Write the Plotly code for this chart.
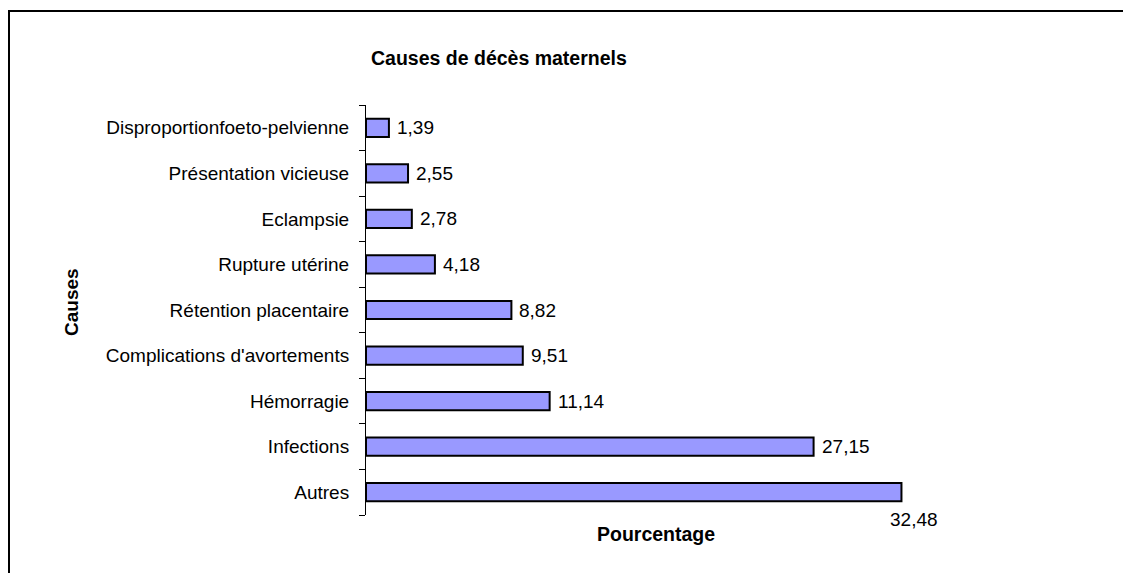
import plotly.graph_objects as go

causes = ['Autres', 'Infections', 'Hémorragie', "Complications d'avortements",
          'Rétention placentaire', 'Rupture utérine', 'Eclampsie',
          'Présentation vicieuse', 'Disproportionfoeto-pelvienne']
pourcentages = [32.48, 27.15, 11.14, 9.51, 8.82, 4.18, 2.78, 2.55, 1.39]

W, H = 1131, 573
OFF = 8  # marge par défaut du body dans la page
font = 'Liberation Sans, Arial, sans-serif'

# zone de tracé (coordonnées page)
PL, PR, PT, PB = 366, 943, 105, 515


def px(x):
    return (x - PL) / (PR - PL)


def py(y):
    return (PB - y) / (PB - PT)


fig = go.Figure(go.Bar(
    x=pourcentages, y=causes, orientation='h',
    marker=dict(color='#9999FF', line=dict(color='#000000', width=2)),
    hoverinfo='x+y'
))

# étiquettes de valeurs (virgule décimale)
annots = []
for i, (c, v) in enumerate(zip(causes, pourcentages)):
    txt = f"{v:.2f}".replace('.', ',')
    if i == 0:
        annots.append(dict(x=v, y=c, text=txt, showarrow=False, xanchor='center', yanchor='middle',
                           xshift=13, yshift=-27, font=dict(size=19, color='#000', family=font)))
    else:
        annots.append(dict(x=v, y=c, text=txt, showarrow=False, xanchor='left', xshift=6,
                           font=dict(size=19, color='#000', family=font)))

annots += [
    dict(xref='paper', yref='paper', x=px(499), y=py(58),
         text='<b>Causes de décès maternels</b>', showarrow=False, xanchor='center', yanchor='middle',
         font=dict(size=19.5, color='#000', family=font)),
    dict(xref='paper', yref='paper', x=px(71), y=py(302),
         text='<b>Causes</b>', textangle=-90, showarrow=False, xanchor='center', yanchor='middle',
         font=dict(size=19, color='#000', family=font)),
    dict(xref='paper', yref='paper', x=px(656), y=py(534),
         text='<b>Pourcentage</b>', showarrow=False, xanchor='center', yanchor='middle',
         font=dict(size=19.5, color='#000', family=font)),
]

fig.update_layout(
    width=W, height=H,
    margin=dict(l=PL - OFF, r=W - (PR - OFF), t=PT - OFF, b=H - (PB - OFF)),
    paper_bgcolor='white', plot_bgcolor='white',
    separators=', ',
    showlegend=False,
    bargap=0.6,
    font=dict(family=font, size=19, color='#000'),
    xaxis=dict(range=[0, 35], visible=False, showgrid=False, zeroline=False),
    yaxis=dict(range=[-0.5, len(causes) - 0.5], autorange=False,
               showline=True, linecolor='#000', linewidth=1, ticks='outside', tickson='boundaries',
               ticklen=6, tickcolor='#000', showgrid=False, ticklabelstandoff=12,
               tickfont=dict(size=19, family=font, color='#000')),
    annotations=annots,
    shapes=[dict(type='rect', xref='paper', yref='paper',
                 x0=px(9), x1=px(1150), y0=py(590), y1=py(11),
                 line=dict(color='#000', width=2), fillcolor='rgba(0,0,0,0)', layer='below')],
)

fig.write_html("out.html")
